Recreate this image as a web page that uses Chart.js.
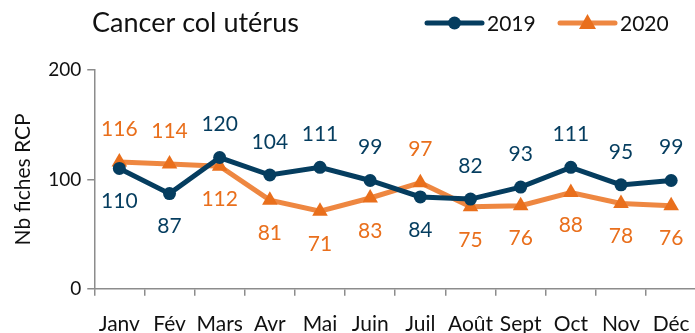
<!DOCTYPE html>
<html>
<head>
<meta charset="utf-8">
<script src="https://cdn.jsdelivr.net/npm/chart.js@4"></script>
<style>
  html, body { margin: 0; padding: 0; background: #fff; overflow: hidden; }
  canvas { display: block; }
</style>
</head>
<body>
<canvas id="rcp" width="706" height="353"></canvas>
<script>
const mois = ['Janv', 'Fév', 'Mars', 'Avr', 'Mai', 'Juin', 'Juil', 'Août', 'Sept', 'Oct', 'Nov', 'Déc'];
const fiches2019 = [110, 87, 120, 104, 111, 99, 84, 82, 93, 111, 95, 99];
const fiches2020 = [116, 114, 112, 81, 71, 83, 97, 75, 76, 88, 78, 76];
// which side of the point each value label sits on (1 = above, -1 = below)
const cote2019 = [-1, -1, 1, 1, 1, 1, -1, 1, 1, 1, 1, 1];
const cote2020 = [1, 1, -1, -1, -1, -1, 1, -1, -1, -1, -1, -1];
const yTicks = [0, 100, 200];

const NAVY = '#053d5f';
const ORANGE = '#e96f1c';
const ORANGE_LINE = 'rgba(237,125,49,0.92)';
const FONT = 'Lato, Carlito, "Noto Sans", sans-serif';

// value labels above / below points
const valueLabels = {
  id: 'valueLabels',
  afterDatasetsDraw(chart) {
    const ctx = chart.ctx;
    ctx.save();
    ctx.font = '21px ' + FONT;
    ctx.textAlign = 'center';
    ctx.textBaseline = 'middle';
    chart.data.datasets.forEach((ds, i) => {
      const meta = chart.getDatasetMeta(i);
      ctx.fillStyle = ds.labelColor;
      meta.data.forEach((pt, j) => {
        const side = ds.labelSide[j];
        ctx.fillText(String(ds.data[j]), pt.x, pt.y - side * 33);
      });
    });
    ctx.restore();
  }
};

// title at left, line+marker legend at right
const header = {
  id: 'header',
  afterDraw(chart) {
    const ctx = chart.ctx;
    ctx.save();
    ctx.fillStyle = '#111';
    ctx.font = '27px ' + FONT;
    ctx.textBaseline = 'middle';
    ctx.textAlign = 'left';
    ctx.fillText('Cancer col utérus', 92, 23);

    const items = [
      { x: 427, label: '2019', color: NAVY, line: NAVY, shape: 'circle' },
      { x: 560, label: '2020', color: ORANGE, line: ORANGE_LINE, shape: 'triangle' }
    ];
    const y = 23;
    items.forEach(it => {
      ctx.strokeStyle = it.line;
      ctx.lineWidth = 5;
      ctx.lineCap = 'round';
      ctx.beginPath();
      ctx.moveTo(it.x, y);
      ctx.lineTo(it.x + 55, y);
      ctx.stroke();
      ctx.fillStyle = it.color;
      const cx = it.x + 27.5;
      ctx.beginPath();
      if (it.shape === 'circle') {
        ctx.arc(cx, y, 6.5, 0, Math.PI * 2);
      } else {
        ctx.moveTo(cx, y - 9);
        ctx.lineTo(cx + 8.5, y + 6);
        ctx.lineTo(cx - 8.5, y + 6);
        ctx.closePath();
      }
      ctx.fill();
      ctx.fillStyle = '#111';
      ctx.font = '21px ' + FONT;
      ctx.fillText(it.label, it.x + 60, y + 1);
    });
    ctx.restore();
  }
};

new Chart(document.getElementById('rcp'), {
  type: 'line',
  data: {
    labels: mois,
    datasets: [
      {
        label: '2019',
        data: fiches2019,
        labelSide: cote2019,
        labelColor: NAVY,
        borderColor: NAVY,
        backgroundColor: NAVY,
        borderWidth: 5,
        pointStyle: 'circle',
        pointRadius: 6.5,
        pointBorderWidth: 0,
        tension: 0
      },
      {
        label: '2020',
        data: fiches2020,
        labelSide: cote2020,
        labelColor: ORANGE,
        borderColor: ORANGE_LINE,
        backgroundColor: ORANGE,
        borderWidth: 5,
        pointStyle: 'triangle',
        pointRadius: 9,
        pointBorderWidth: 0,
        tension: 0
      }
    ]
  },
  options: {
    responsive: false,
    animation: false,
    layout: { padding: { top: 70, right: 2, left: 11, bottom: 0 } },
    plugins: {
      legend: { display: false },
      tooltip: { enabled: false }
    },
    scales: {
      x: {
        offset: true,
        grid: {
          offset: true,
          drawOnChartArea: false,
          drawTicks: true,
          tickLength: 7,
          color: '#8c8c8c',
          lineWidth: 1.5
        },
        border: { color: '#8c8c8c', width: 1.5 },
        ticks: {
          color: '#111',
          font: { family: FONT, size: 21 },
          padding: 16,
          maxRotation: 0,
          autoSkip: false
        }
      },
      y: {
        min: 0,
        max: 200,
        afterBuildTicks(axis) { axis.ticks = yTicks.map(v => ({ value: v })); },
        grid: {
          drawOnChartArea: false,
          drawTicks: true,
          tickLength: 7,
          color: '#8c8c8c',
          lineWidth: 1.5
        },
        border: { color: '#8c8c8c', width: 1.5 },
        ticks: {
          color: '#111',
          font: { family: FONT, size: 19 },
          padding: 6
        },
        title: {
          display: true,
          text: 'Nb fiches RCP',
          color: '#111',
          font: { family: FONT, size: 21 },
          padding: { top: 0, bottom: 6 }
        }
      }
    }
  },
  plugins: [valueLabels, header]
});
</script>
</body>
</html>
